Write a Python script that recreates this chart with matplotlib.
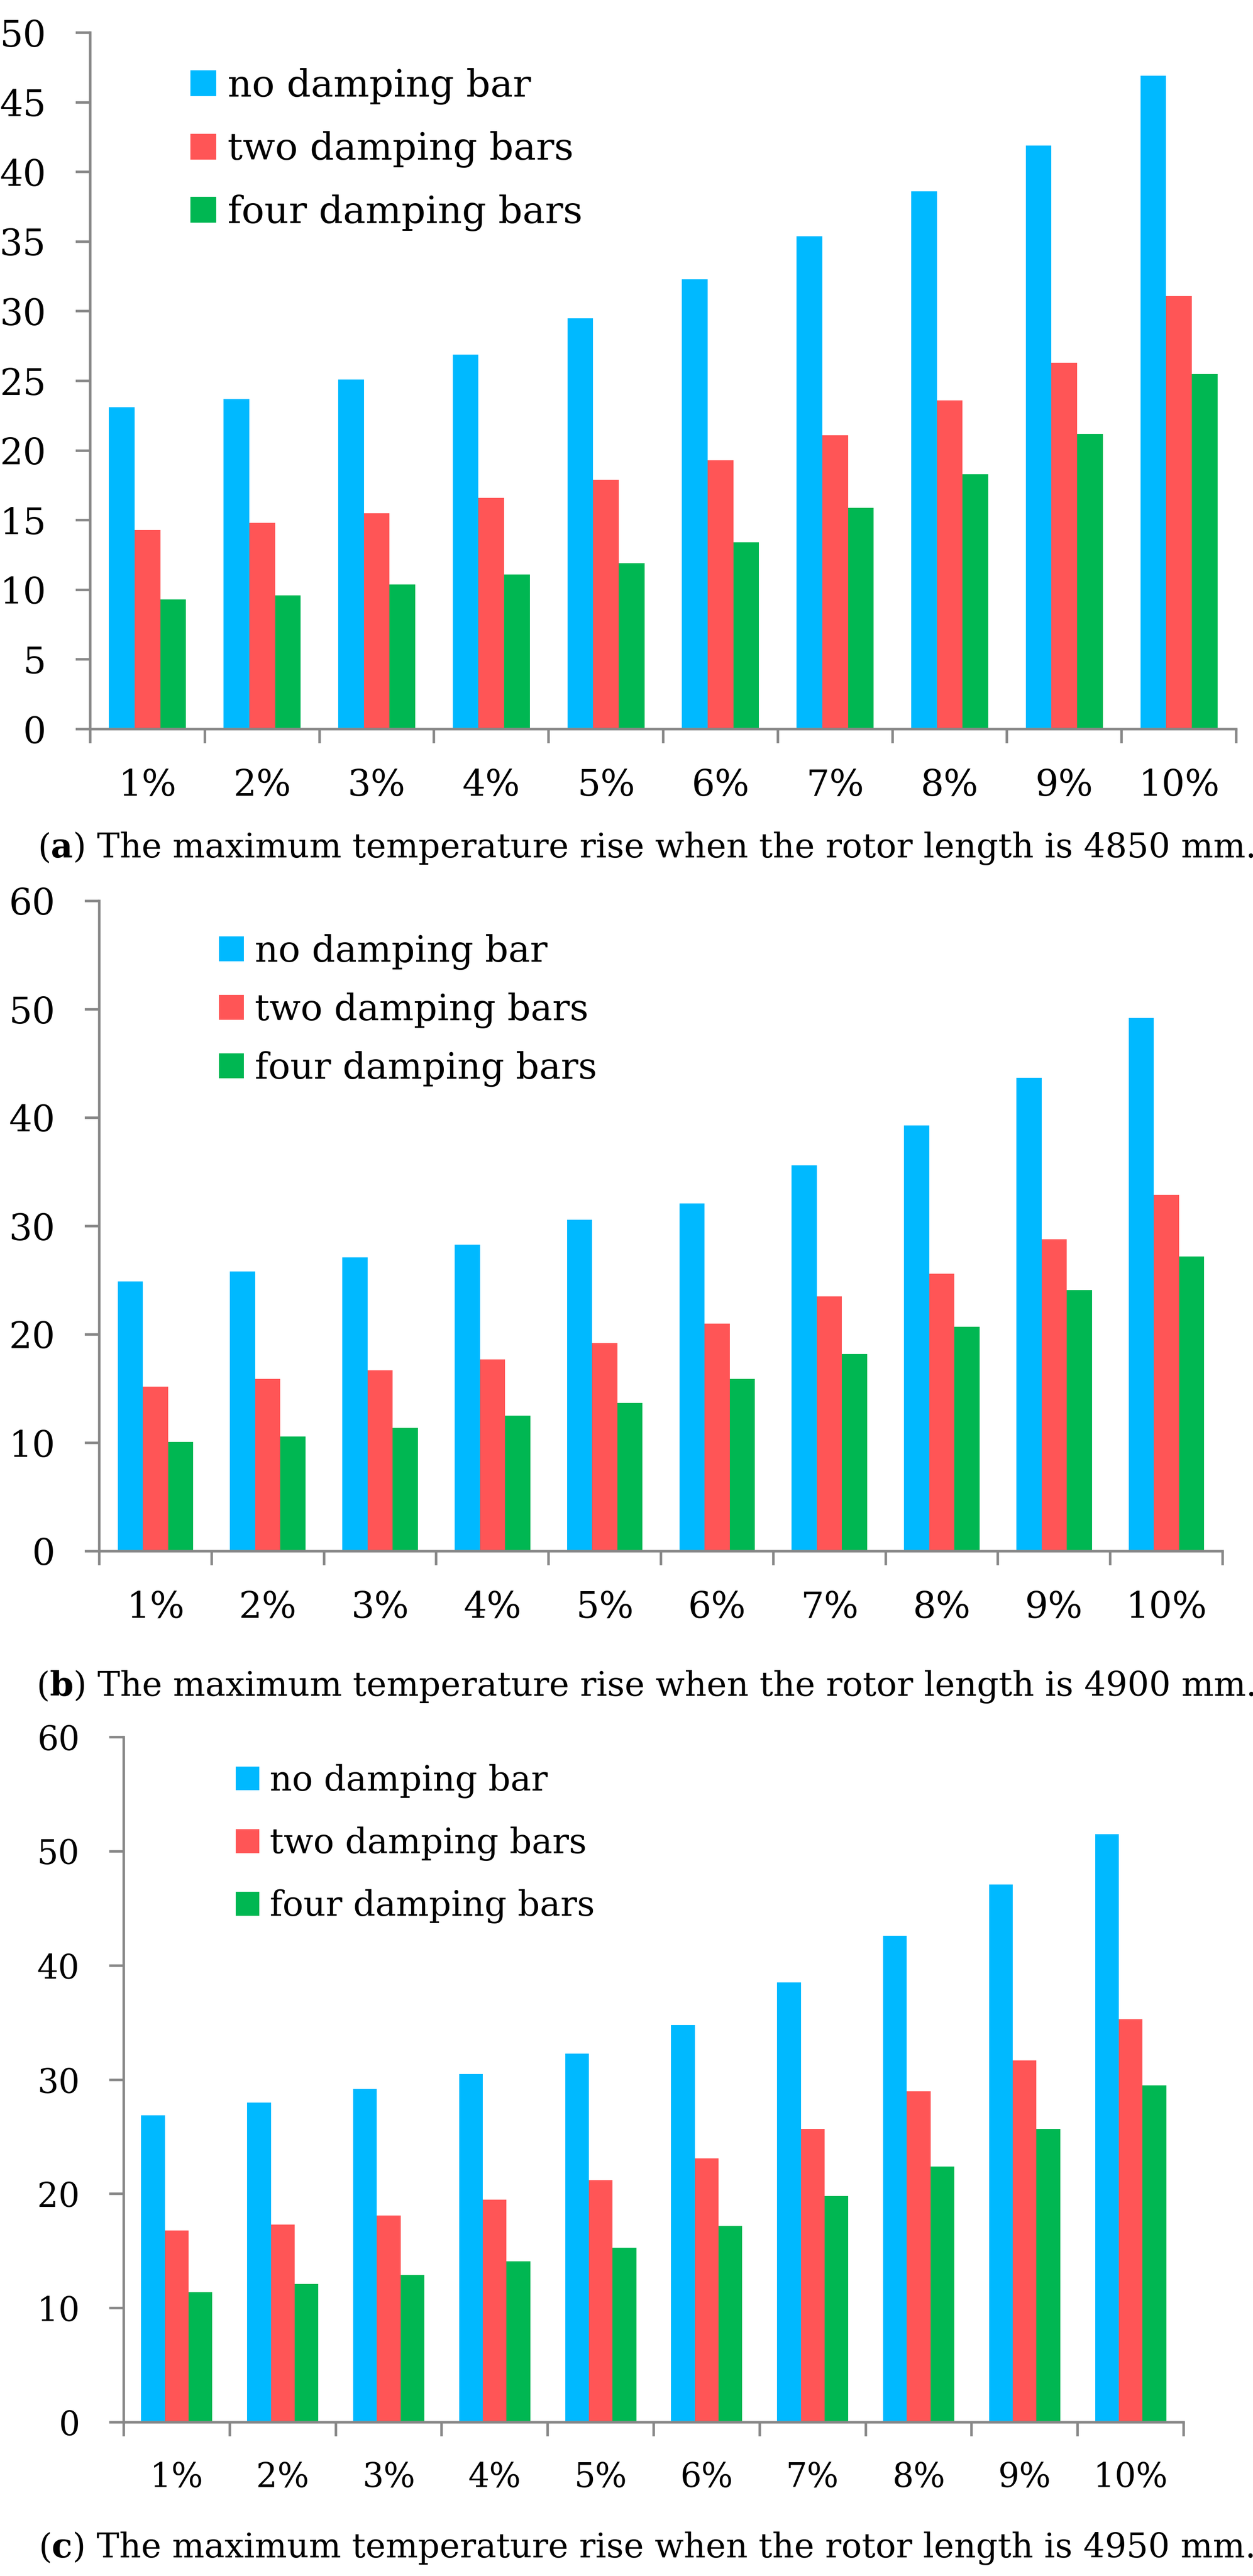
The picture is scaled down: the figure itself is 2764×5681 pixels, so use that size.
import matplotlib
matplotlib.use("Agg")
import matplotlib.pyplot as plt
import numpy as np

plt.rcParams['font.family'] = ['DejaVu Serif']

W, H = 2764, 5681
DPI = 100

categories = ['1%', '2%', '3%', '4%', '5%', '6%', '7%', '8%', '9%', '10%']
series_names = ['no damping bar', 'two damping bars', 'four damping bars']
colors = ['#00B9FF', '#FF5556', '#00B752']
gray = '#878787'

# rotor length 4850 mm
no_bar_4850 = [23.1, 23.7, 25.1, 26.9, 29.5, 32.3, 35.4, 38.6, 41.9, 46.9]
two_bars_4850 = [14.3, 14.8, 15.5, 16.6, 17.9, 19.3, 21.1, 23.6, 26.3, 31.1]
four_bars_4850 = [9.3, 9.6, 10.4, 11.1, 11.9, 13.4, 15.9, 18.3, 21.2, 25.5]

# rotor length 4900 mm
no_bar_4900 = [24.9, 25.8, 27.1, 28.3, 30.6, 32.1, 35.6, 39.3, 43.7, 49.2]
two_bars_4900 = [15.2, 15.9, 16.7, 17.7, 19.2, 21.0, 23.5, 25.6, 28.8, 32.9]
four_bars_4900 = [10.1, 10.6, 11.4, 12.5, 13.7, 15.9, 18.2, 20.7, 24.1, 27.2]

# rotor length 4950 mm
no_bar_4950 = [26.9, 28.0, 29.2, 30.5, 32.3, 34.8, 38.5, 42.6, 47.1, 51.5]
two_bars_4950 = [16.8, 17.3, 18.1, 19.5, 21.2, 23.1, 25.7, 29.0, 31.7, 35.3]
four_bars_4950 = [11.4, 12.1, 12.9, 14.1, 15.3, 17.2, 19.8, 22.4, 25.7, 29.5]

caption_text = ' The maximum temperature rise when the rotor length is {} mm.'

# pixel layout of each panel: axes box, y range, legend anchor, caption
panels = [
    dict(series=[no_bar_4850, two_bars_4850, four_bars_4850], box=(199, 2727, 72, 1608),
         ymax=50, ystep=5, fs=58, leg=(420, 150), lfs=60, lsp=0.7,
         letter='a', length=4850, cap=(83, 1891)),
    dict(series=[no_bar_4900, two_bars_4900, four_bars_4900], box=(219, 2697, 1987, 3421),
         ymax=60, ystep=10, fs=58, leg=(483, 2060), lfs=58, lsp=0.62,
         letter='b', length=4900, cap=(80, 3740)),
    dict(series=[no_bar_4950, two_bars_4950, four_bars_4950], box=(273, 2611, 3831, 5342),
         ymax=60, ystep=10, fs=53, leg=(520, 3890), lfs=55, lsp=0.82,
         letter='c', length=4950, cap=(85, 5640)),
]

fig = plt.figure(figsize=(W / DPI, H / DPI), dpi=DPI)
renderer = fig.canvas.get_renderer()

x = np.arange(len(categories))
bw = 0.224

for p in panels:
    l, r, t, b = p['box']
    ax = fig.add_axes([l / W, 1 - b / H, (r - l) / W, (b - t) / H])
    handles = []
    for i, vals in enumerate(p['series']):
        h = ax.bar(x + (i - 1) * bw, vals, bw, color=colors[i], linewidth=0,
                   label=series_names[i])
        handles.append(h)

    ax.set_xlim(-0.5, len(categories) - 0.5)
    ax.set_ylim(0, p['ymax'])
    ax.set_yticks(np.arange(0, p['ymax'] + 1, p['ystep']))
    ax.set_xticks(x)
    ax.set_xticklabels(categories)
    ax.set_xticks(np.arange(-0.5, len(categories)), minor=True)

    for s in ['top', 'right']:
        ax.spines[s].set_visible(False)
    for s in ['left', 'bottom']:
        ax.spines[s].set_color(gray)
        ax.spines[s].set_linewidth(4)

    ax.tick_params(axis='y', direction='out', length=23, width=4, color=gray,
                   pad=47, labelsize=p['fs'])
    ax.tick_params(axis='x', which='major', length=0, pad=62, labelsize=p['fs'])
    ax.tick_params(axis='x', which='minor', direction='out', length=22, width=4,
                   color=gray)

    lx, ly = p['leg']
    ax.legend(handles=handles, loc='upper left',
              bbox_to_anchor=(lx / W, 1 - ly / H), bbox_transform=fig.transFigure,
              frameon=False, fontsize=p['lfs'], borderpad=0, borderaxespad=0,
              handlelength=0.68, handleheight=0.68, handletextpad=0.3,
              labelspacing=p['lsp'])

    # caption with bold panel letter
    cx, cy = p['cap']
    yf = 1 - cy / H
    cfs = 54
    xpos = cx
    for txt, weight in [('(', 'normal'), (p['letter'], 'bold'),
                        (')' + caption_text.format(p['length']), 'normal')]:
        tt = fig.text(xpos / W, yf, txt, fontsize=cfs, fontweight=weight,
                      va='baseline', ha='left')
        xpos = tt.get_window_extent(renderer).x1

fig.savefig('out.png', dpi=DPI, facecolor='white')
